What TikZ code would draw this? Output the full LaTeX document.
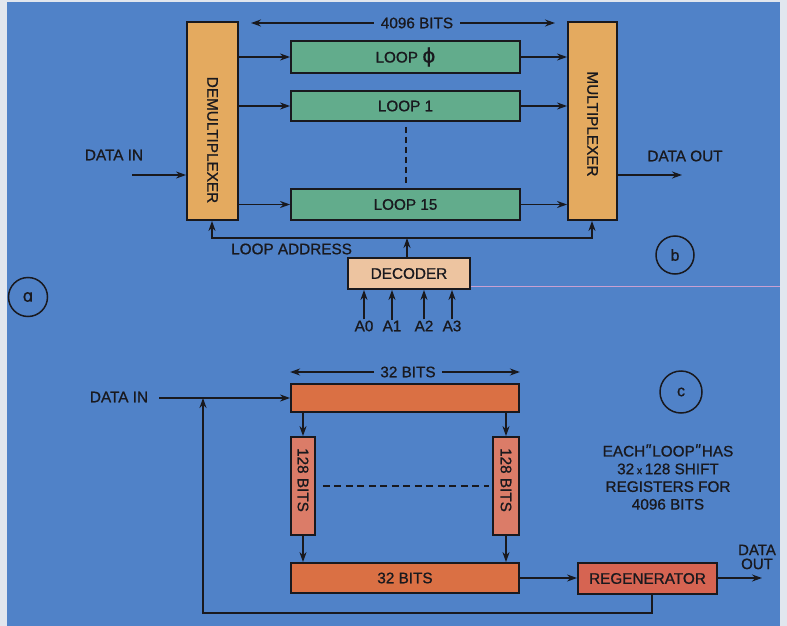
\documentclass[tikz,border=0pt]{standalone}
\usepackage{fontspec}
\setmainfont{Liberation Sans}[FakeBold=0.9]
\newfontfamily\dvs{DejaVu Sans}[FakeBold=0.6]
\usetikzlibrary{arrows.meta,calc}
\definecolor{bg}{RGB}{80,130,200}
\definecolor{edgec}{RGB}{225,230,238}
\definecolor{ink}{RGB}{25,25,30}
\definecolor{tanf}{RGB}{228,170,95}
\definecolor{loopg}{RGB}{98,172,140}
\definecolor{decf}{RGB}{237,196,160}
\definecolor{barf}{RGB}{218,112,68}
\definecolor{salf}{RGB}{219,124,104}
\definecolor{regf}{RGB}{214,100,82}
\definecolor{pinkl}{RGB}{200,160,210}
\newcommand{\qmark}{{\dvs ʺ}}
\begin{document}
\begin{tikzpicture}[x=1pt,y=-1pt,
  box/.style={draw=ink, line width=1.8pt, inner sep=0pt, text=ink, font=\fontsize{15.3}{17}\selectfont},
  arr/.style={draw=ink, line width=1.8pt, -{Stealth[length=10pt,width=7pt]}},
  ln/.style={draw=ink, line width=1.8pt},
  lbl/.style={text=ink, inner sep=1pt, font=\fontsize{15.3}{17}\selectfont},
  circ/.style={circle, draw=ink, line width=1.5pt, inner sep=0pt, text=ink, font=\fontsize{16}{17}\selectfont}]
\useasboundingbox (0,0) rectangle (787,626);
\fill[edgec] (0,0) rectangle (787,626);
\fill[bg] (7,2) rectangle (780,626);

% ---------- part b ----------
\node[box, fill=tanf, minimum width=51pt, minimum height=198pt] (demux) at (212.5,121) {};
\node[lbl, rotate=-90] (demuxt) at (212.5,140) {DEMULTIPLEXER};
\node[box, fill=tanf, minimum width=49pt, minimum height=198pt] (mux) at (592.5,121) {};
\node[lbl, rotate=-90] (muxt) at (592.5,124) {MULTIPLEXER};

\node[box, fill=loopg, minimum width=229pt, minimum height=32pt] (l0) at (405.5,57) {LOOP\ {\dvs\fontsize{20}{20}\selectfont ϕ}};
\node[box, fill=loopg, minimum width=229pt, minimum height=30pt] (l1) at (405.5,106) {LOOP 1};
\node[box, fill=loopg, minimum width=229pt, minimum height=31pt] (l15) at (405.5,204.5) {LOOP 15};

\foreach \l in {l0,l1,l15}{
  \draw[arr] (demux.east |- \l.west) -- (\l.west);
  \draw[arr] (\l.east) -- (mux.west |- \l.east);
}
\draw[ln, line width=1.5pt, dash pattern=on 6pt off 4pt] ($(l1.south)+(0.5,5)$) -- ($(l15.north)+(0.5,-4)$);

\node[lbl, inner xsep=7pt] (b4096) at (417,23) {4096 BITS};
\coordinate (b4l) at (251,23);
\coordinate (b4r) at (555,23);
\draw[arr] (b4096.west) -- (b4l);
\draw[arr] (b4096.east) -- (b4r);

\node[lbl] (din) at (114,155) {DATA IN};
\coordinate (dins) at (132,175);
\draw[arr] (dins) -- (dins -| demux.west);
\node[lbl] (dout) at (685,156) {DATA OUT};
\coordinate (doute) at (682,175);
\draw[arr] (mux.east |- doute) -- (doute);

\node[box, fill=decf, minimum width=122pt, minimum height=31pt] (dec) at (409,273.5) {DECODER};
\coordinate (laL) at (212,238);
\coordinate (laR) at (592,238);
\draw[ln, {Stealth[length=10pt,width=7pt]}-{Stealth[length=10pt,width=7pt]}, line join=miter]
  (laL |- demux.south) -- (laL) -- (laR) -- (laR |- mux.south);
\draw[arr] ($(dec.north)+(-2,0)$) -- ($(dec.north |- laL)+(-2,0)$);
\node[lbl, anchor=west] (la) at (230,249) {LOOP ADDRESS};

\foreach \n/\x/\t in {a0/364/A0, a1/392/A1, a2/424/A2, a3/452/A3}{
  \node[lbl] (\n) at (\x,326) {\t};
  \draw[arr] (\n.north) -- (\n.north |- dec.south);
}

\coordinate (pk) at (780,286);
\draw[pinkl, line width=0.7pt] (dec.east |- pk) -- (pk);

\node[circ, minimum size=39pt] (ca) at (28,297) {{\dvs\fontsize{17}{17}\selectfont ɑ}};
\node[circ, minimum size=38pt] (cb) at (675,255) {b};
\node[circ, minimum size=42pt] (cc) at (681,392) {c};

% ---------- part c ----------
\node[box, fill=barf, minimum width=228pt, minimum height=28pt] (top) at (405,398) {};
\node[lbl, inner xsep=6pt] (b32) at (408,372) {32 BITS};
\draw[arr] (b32.west) -- (top.west |- b32);
\draw[arr] (b32.east) -- (top.east |- b32);

\node[box, fill=salf, minimum width=24pt, minimum height=98pt] (s1) at (303,486) {};
\node[lbl, rotate=-90] (s1t) at (303,480) {128 BITS};
\node[box, fill=salf, minimum width=26pt, minimum height=98pt] (s2) at (506,486) {};
\node[lbl, rotate=-90] (s2t) at (506,480) {128 BITS};

\node[box, fill=barf, minimum width=228pt, minimum height=30pt] (bot) at (405,578) {32 BITS};

\draw[arr] (top.south -| s1) -- (s1.north);
\draw[arr] (top.south -| s2) -- (s2.north);
\draw[arr] (s1.south) -- (s1.south |- bot.north);
\draw[arr] (s2.south) -- (s2.south |- bot.north);
\draw[ln, line width=1.5pt, dash pattern=on 7pt off 4.5pt] ($(s1.east)+(7,0)$) -- ($(s2.west)+(-3,0)$);

\node[lbl] (din2) at (119,397) {DATA IN};
\coordinate (din2e) at (159,398);
\draw[arr] (din2e) -- (top.west);

\node[box, fill=regf, minimum width=139pt, minimum height=31pt] (regen) at (647.5,578.5) {REGENERATOR};
\draw[arr] (bot.east) -- (regen.west |- bot.east);
\coordinate (rout) at (762,578);
\draw[arr] (regen.east |- rout) -- (rout);
\node[lbl, align=center, font=\fontsize{15}{14}\selectfont] (dout2) at (757,557) {DATA\\OUT};

\coordinate (fbj) at (203,398);
\coordinate (fbb) at (203,613);
\coordinate (rb) at ($(regen.south)+(4.5,0)$);
\draw[arr, line join=miter] (rb) -- (rb |- fbb) -- (fbb) -- (fbj);

\node[lbl, align=center, font=\fontsize{15.3}{17.7}\selectfont] (note) at (668,477)
  {EACH\qmark LOOP\qmark HAS\\32\,{\fontsize{11}{11}\selectfont x}\,128 SHIFT\\REGISTERS FOR\\4096 BITS};
\end{tikzpicture}
\end{document}
